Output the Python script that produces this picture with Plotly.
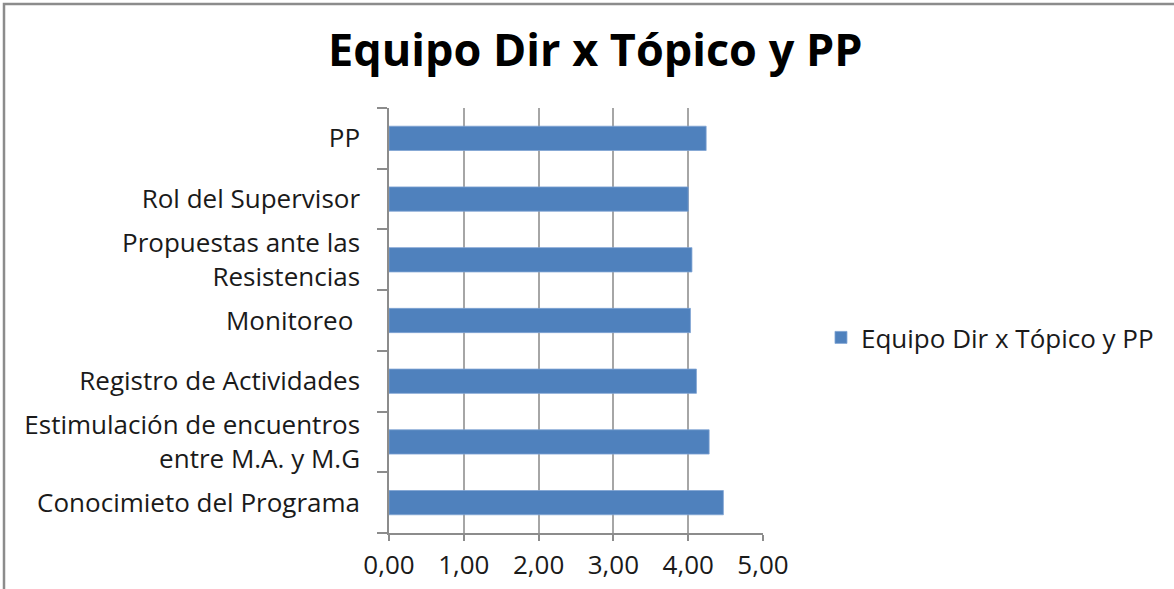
import plotly.graph_objects as go

categories = [
    "Conocimieto del Programa",
    "Estimulación de encuentros<br>entre M.A. y M.G",
    "Registro de Actividades",
    "Monitoreo ",
    "Propuestas ante las<br>Resistencias",
    "Rol del Supervisor",
    "PP",
]
values = [4.47, 4.28, 4.11, 4.03, 4.05, 4.00, 4.24]
series_name = "Equipo Dir x Tópico y PP"
x_ticks = [0, 1, 2, 3, 4, 5]
x_tick_labels = ["0,00", "1,00", "2,00", "3,00", "4,00", "5,00"]

fig = go.Figure()
fig.add_trace(go.Bar(
    y=categories, x=values, orientation="h", name=series_name,
    marker=dict(color="#4F81BD", line=dict(color="#7FA3D3", width=0.8)),
    showlegend=True,
))

font_family = "Open Sans, Noto Sans, sans-serif"

fig.update_layout(
    width=1174, height=589,
    margin=dict(l=389, r=411, t=108, b=56),
    paper_bgcolor="white", plot_bgcolor="white",
    bargap=0.6,
    title=dict(text="<b>Equipo Dir x Tópico y PP</b>", x=0.507, xanchor="center",
               y=0.915, yanchor="middle",
               font=dict(family="Open Sans, Noto Sans, sans-serif", size=45, color="black")),
    font=dict(family=font_family, size=26, color="#1a1a1a"),
    legend=dict(x=1.155, y=0.46, xanchor="left", yanchor="middle",
                font=dict(family=font_family, size=26, color="#1a1a1a"),
                bgcolor="rgba(0,0,0,0)"),
    showlegend=True,
)
fig.update_xaxes(
    range=[0, 5], tickvals=x_ticks, ticktext=x_tick_labels,
    showgrid=True, gridcolor="#A6A6A6", gridwidth=1.5,
    showline=True, linecolor="#8C8C8C", linewidth=1.5,
    ticks="outside", ticklen=6, tickcolor="#8C8C8C", tickwidth=1.5,
    ticklabelstandoff=2, automargin=False,
    zeroline=False, fixedrange=True,
)
fig.update_yaxes(
    showgrid=False, showline=True, linecolor="#8C8C8C", linewidth=1.5,
    ticks="outside", tickson="boundaries", ticklen=10, tickcolor="#8C8C8C", tickwidth=1.5,
    ticklabelstandoff=22, automargin=False,
    zeroline=False,
)
fig.add_shape(type="rect", xref="paper", yref="paper",
              x0=(4 - 389) / 374, x1=(1174 + 20 - 389) / 374,
              y0=-0.3, y1=(589 - 56 - 4) / 425,
              line=dict(color="#8C8C8C", width=2.5), fillcolor="rgba(0,0,0,0)",
              layer="below")
fig.write_html("out.html", config={"displayModeBar": False},
               post_script="document.body.style.margin='0';document.body.style.overflow='hidden';")
